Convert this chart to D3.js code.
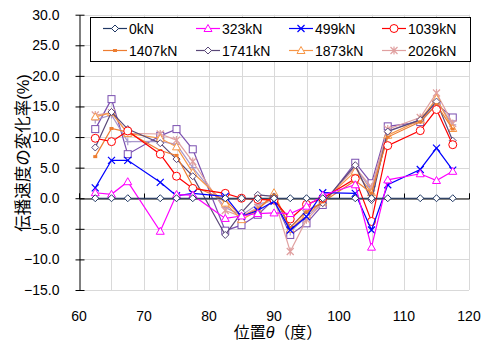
<!DOCTYPE html>
<html>
<head>
<meta charset="utf-8">
<script src="https://cdn.jsdelivr.net/npm/d3@7"></script>
<style>
  body { margin: 0; background: #fff; }
  text { font-family: "Liberation Sans", "Noto Sans CJK JP", sans-serif; fill: #000; }
</style>
</head>
<body>
<div id="chart"></div>
<script>
// measurement positions (deg)
const angles = [62.5, 65, 67.5, 72.5, 75, 77.5, 82.5, 85, 87.5, 90, 92.5, 95, 97.5, 102.5, 105, 107.5, 112.5, 115, 117.5];

const v0 = [0, 0, 0, 0, 0, 0, 0, 0, 0, 0, 0, 0, 0, 0, 0, 0, 0, 0, 0];
const v323 = [0.9, 0.65, 2.7, -5.4, 0.6, 0.5, -3.3, -2.9, -2.5, -2.4, -2.5, -1.3, 0.5, 2.2, -8.0, 3.0, 4.0, 2.9, 4.4];
const v499 = [1.7, 6.2, 6.2, 2.6, 0.4, 0.8, 0.3, -3.0, -2.0, -0.5, -5.2, -3.0, 0.9, 0.8, -5.2, 2.2, 4.7, 8.2, 4.6];
const v1039 = [9.8, 9.25, 11.0, 7.2, 3.6, 1.6, 0.8, 0.0, -0.2, -0.3, -3.4, -1.0, 0.0, 3.2, -3.8, 8.6, 11.05, 14.5, 8.75];
const v1407 = [6.8, 11.4, 10.8, 7.8, 7.0, 2.0, -0.3, -3.0, -1.8, 0.5, -4.8, -2.2, -0.6, 2.9, 0.8, 10.0, 12.5, 15.3, 11.3];
const v1741 = [8.3, 14.1, 11.3, 9.0, 6.4, 3.6, -6.0, -2.35, 0.55, 0.3, -4.8, -2.0, -0.8, 5.4, -0.3, 10.9, 12.8, 15.8, 9.4];
const v1873 = [13.3, 14.0, 10.6, 9.8, 8.4, 4.2, -0.8, -3.5, -2.0, 0.9, -5.1, -2.7, -0.6, 4.4, 0.9, 10.3, 12.8, 16.3, 11.4];
const v2026 = [13.6, 14.0, 10.6, 10.5, 9.5, 6.0, -2.0, -3.0, -1.5, 0.0, -8.7, -3.5, -0.8, 5.0, 1.8, 11.3, 13.2, 17.2, 12.2];
// two more series drawn in the chart but not listed in the legend
const vExtraA = [11.3, 16.2, 7.2, 10.2, 11.3, 8.0, -5.3, -4.4, -2.7, -0.2, -6.0, -4.1, -1.1, 5.8, 2.45, 11.75, 12.45, 15.4, 13.2];
const vExtraB = [12.8, 13.6, 9.25, 9.3, 8.8, 5.0, -1.5, -2.8, -1.0, -0.3, -5.5, -3.0, -0.8, 5.2, 1.2, 11.0, 12.8, 16.0, 12.0];

const xTicks = [60, 70, 80, 90, 100, 110, 120];
const yTicks = [30, 25, 20, 15, 10, 5, 0, -5, -10, -15];

const series = [
  {name: "0kN", values: v0, color: "#203864", marker: "diamond", legend: true},
  {name: "323kN", values: v323, color: "#ff00ff", marker: "triangle", legend: true},
  {name: "499kN", values: v499, color: "#0000ff", marker: "x", legend: true},
  {name: "1039kN", values: v1039, color: "#ff0000", marker: "circle", legend: true},
  {name: "1407kN", values: v1407, color: "#ed7d31", marker: "dash", legend: true},
  {name: "1741kN", values: v1741, color: "#5a4878", marker: "diamond", legend: true},
  {name: "1873kN", values: v1873, color: "#f79646", marker: "triangle", legend: true},
  {name: "2026kN", values: v2026, color: "#e0a0a0", marker: "star", legend: true},
  {name: "extraB", values: vExtraB, color: "#a898cc", marker: "plus", legend: false},
  {name: "extraA", values: vExtraA, color: "#7a4fb0", marker: "square", legend: false}
];

const width = 481, height = 342;
const svg = d3.select("#chart").append("svg")
  .attr("width", width).attr("height", height);

const x = d3.scaleLinear().domain([60, 120]).range([79, 469]);
const y = d3.scaleLinear().domain([-15, 30]).range([290, 14.7]);

// grid
const grid = svg.append("g").attr("stroke", "#d9d9d9").attr("stroke-width", 1);
grid.selectAll("line.h").data(d3.range(-15, 31, 5)).enter().append("line")
  .attr("x1", x(60)).attr("x2", x(120))
  .attr("y1", d => Math.round(y(d)) + 0.5).attr("y2", d => Math.round(y(d)) + 0.5);
grid.selectAll("line.v").data(d3.range(65, 121, 5)).enter().append("line")
  .attr("y1", y(30)).attr("y2", y(-15))
  .attr("x1", d => Math.round(x(d)) + 0.5).attr("x2", d => Math.round(x(d)) + 0.5);

// y axis
const yAxis = svg.append("g")
  .attr("transform", `translate(${Math.round(x(60)) + 0.5},0)`)
  .call(d3.axisLeft(y).tickValues(yTicks).tickFormat(d3.format(".1f")).tickSize(0).tickPadding(20));
yAxis.select(".domain").attr("stroke", "#000");
yAxis.selectAll("text").attr("font-size", 14);
yAxis.selectAll(".tick").append("line")
  .attr("x1", -4).attr("x2", 5).attr("stroke", "#000");

// x axis line at zero, labels at bottom
const y0 = Math.round(y(0)) + 0.5;
const xAxis = svg.append("g").attr("transform", `translate(0,${y0})`)
  .call(d3.axisTop(x).tickValues(xTicks).tickFormat("").tickSize(5));
xAxis.select(".domain").attr("stroke", "#000");
xAxis.selectAll(".tick line").attr("stroke", "#000");

svg.append("g").selectAll("text").data(xTicks).enter().append("text")
  .attr("x", d => x(d)).attr("y", 321)
  .attr("text-anchor", "middle").attr("font-size", 14)
  .text(d => d);

// axis titles
const xt = svg.append("text").attr("x", 278).attr("y", 338)
  .attr("text-anchor", "middle").attr("font-size", 16);
xt.append("tspan").text("位置");
xt.append("tspan").attr("font-style", "italic").text("θ");
xt.append("tspan").text("（度）");

svg.append("text")
  .attr("transform", "translate(29,153) rotate(-90)")
  .attr("text-anchor", "middle").attr("font-size", 16.5)
  .text("伝播速度の変化率(%)");

// markers
function drawMarker(g, type, color, cx, cy) {
  if (type === "diamond") {
    g.append("path").attr("d", `M${cx},${cy - 3.5}L${cx + 3.5},${cy}L${cx},${cy + 3.5}L${cx - 3.5},${cy}Z`)
      .attr("fill", "#fff").attr("stroke", color);
  } else if (type === "triangle") {
    g.append("path").attr("d", `M${cx},${cy - 4}L${cx + 4},${cy + 3}L${cx - 4},${cy + 3}Z`)
      .attr("fill", "#fff").attr("stroke", color);
  } else if (type === "circle") {
    g.append("circle").attr("cx", cx).attr("cy", cy).attr("r", 4)
      .attr("fill", "#fff").attr("stroke", color);
  } else if (type === "square") {
    g.append("rect").attr("x", cx - 3.5).attr("y", cy - 3.5).attr("width", 7).attr("height", 7)
      .attr("fill", "#fff").attr("stroke", color);
  } else if (type === "dash") {
    g.append("rect").attr("x", cx - 2).attr("y", cy - 1.5).attr("width", 4).attr("height", 3)
      .attr("fill", color);
  } else if (type === "x") {
    g.append("path").attr("d", `M${cx - 3.5},${cy - 3.5}L${cx + 3.5},${cy + 3.5}M${cx - 3.5},${cy + 3.5}L${cx + 3.5},${cy - 3.5}`)
      .attr("stroke", color).attr("stroke-width", 1.2);
  } else if (type === "plus") {
    g.append("path").attr("d", `M${cx - 3.5},${cy}L${cx + 3.5},${cy}M${cx},${cy - 3.5}L${cx},${cy + 3.5}`)
      .attr("stroke", color).attr("stroke-width", 1.2);
  } else if (type === "star") {
    g.append("path").attr("d", `M${cx - 3.5},${cy - 3.5}L${cx + 3.5},${cy + 3.5}M${cx - 3.5},${cy + 3.5}L${cx + 3.5},${cy - 3.5}M${cx},${cy - 4}L${cx},${cy + 4}`)
      .attr("stroke", color).attr("stroke-width", 1.2);
  }
}

const line = d3.line().x((d, i) => x(angles[i])).y(d => y(d));

const plot = svg.append("g");
series.slice().reverse().forEach(s => {
  const g = plot.append("g");
  g.append("path").datum(s.values).attr("d", line)
    .attr("fill", "none").attr("stroke", s.color).attr("stroke-width", 1.2);
  s.values.forEach((v, i) => drawMarker(g, s.marker, s.color, x(angles[i]), y(v)));
});

// legend
const legend = svg.append("g");
legend.append("rect").attr("x", 90.5).attr("y", 17.5).attr("width", 380).attr("height", 44)
  .attr("fill", "#fff").attr("stroke", "#000");
series.filter(s => s.legend).forEach((s, i) => {
  const col = i % 4, row = Math.floor(i / 4);
  const lx = 103 + col * 93, ly = 28.5 + row * 22;
  const g = legend.append("g");
  g.append("line").attr("x1", lx).attr("x2", lx + 24).attr("y1", ly).attr("y2", ly)
    .attr("stroke", s.color).attr("stroke-width", 1.2);
  drawMarker(g, s.marker, s.color, lx + 12, ly);
  g.append("text").attr("x", lx + 26).attr("y", ly + 5).attr("font-size", 14).text(s.name);
});
</script>
</body>
</html>
